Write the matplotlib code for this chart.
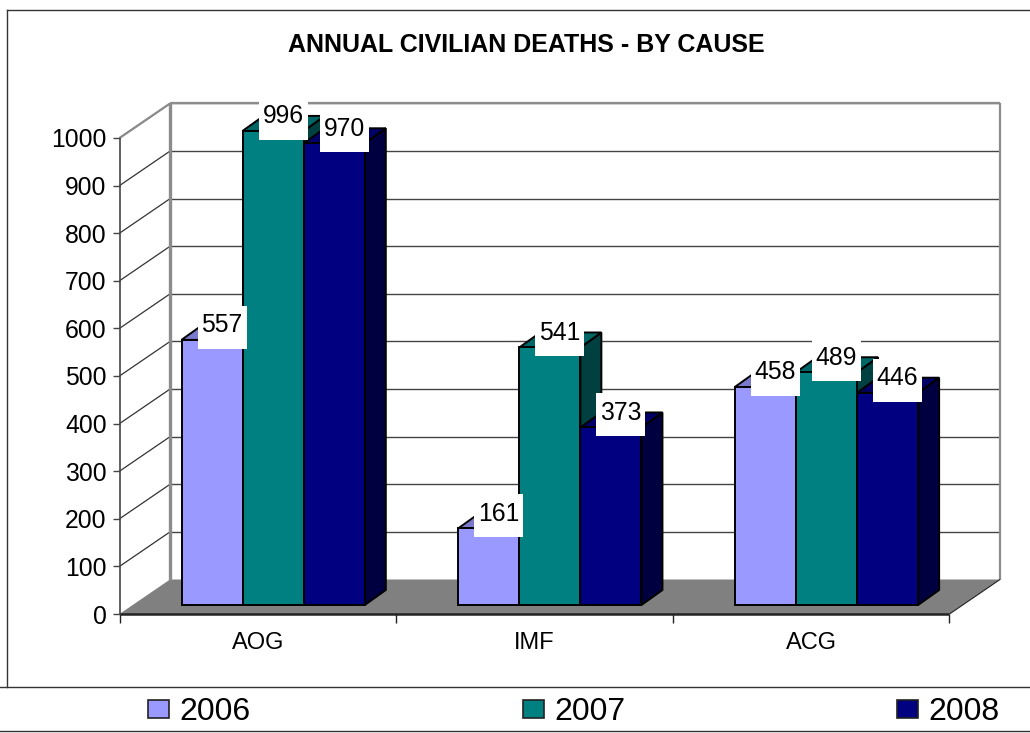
import matplotlib
matplotlib.use("Agg")
import matplotlib.pyplot as plt
from matplotlib.patches import Polygon, Rectangle
from matplotlib.lines import Line2D

plt.rcParams['font.family'] = ['Liberation Sans', 'DejaVu Sans']

title = "ANNUAL CIVILIAN DEATHS - BY CAUSE"
categories = ["AOG", "IMF", "ACG"]
years = ["2006", "2007", "2008"]
v2006 = [557, 161, 458]
v2007 = [996, 541, 489]
v2008 = [970, 373, 446]
yticks = [0, 100, 200, 300, 400, 500, 600, 700, 800, 900, 1000]

face = ["#9999FF", "#008080", "#000080"]
top = ["#7A7ACC", "#006666", "#000066"]
side = ["#4D4D80", "#004040", "#000040"]

W, H = 1030, 733
fig = plt.figure(figsize=(W / 100, H / 100), dpi=100, facecolor="white")
L, R, Y0, Y1 = 119.5, 949.5, 614, 138
ax = fig.add_axes([L / W, 1 - Y0 / H, (R - L) / W, (Y0 - Y1) / H])
ax.set_xlim(0, 3)
ax.set_ylim(0, 1000)
ax.axis("off")

PX = 3 / (R - L)            # data x per pixel
PY = 1000 / (Y0 - Y1)       # data y per pixel
DX, DY = 50.5 * PX, 34.5 * PY  # full chart depth


def poly(pts, **kw):
    ax.add_patch(Polygon(pts, closed=True, clip_on=False, **kw))


def seg(xs, ys, color="black", lw=1.0, z=1):
    ax.add_line(Line2D(xs, ys, color=color, lw=lw, zorder=z, clip_on=False,
                       solid_capstyle="butt"))


# floor
poly([(0, 0), (3, 0), (3 + DX, DY), (DX, DY)], fc="#808080", ec="none", zorder=1)

# gridlines on both walls
for t in yticks[1:]:
    seg([DX, 3 + DX], [t + DY, t + DY], color="#444444", lw=1.0)
    seg([0, DX], [t, t + DY], color="#333333", lw=0.9)
# wall frame
GREY = "#8C8C8C"
seg([0, DX], [1000, 1000 + DY], color=GREY, lw=1.6, z=1.5)
seg([DX, DX], [DY, 1000 + DY], color=GREY, lw=2.4, z=1.5)
seg([DX, 3 + DX], [1000 + DY, 1000 + DY], color=GREY, lw=1.6, z=1.5)
seg([3 + DX, 3 + DX], [DY, 1000 + DY], color=GREY, lw=1.6, z=1.5)
seg([3, 3 + DX], [0, DY], color="#222222", lw=0.8, z=1.5)

# axes
seg([0, 0], [0, 1000], color="#444444", lw=1.2, z=2)
seg([0, 3], [0, 0], color="#222222", lw=1.8, z=2)
for t in yticks:
    seg([-7 * PX, 0], [t, t], color="#444444", lw=1.0, z=2)
    ax.text(-13 * PX, t, str(t), ha="right", va="center_baseline", fontsize=17.8,
            color="black")
for i in range(4):
    seg([i, i], [0, -9 * PY], color="#222222", lw=1.0, z=2)
for i, c in enumerate(categories):
    ax.text(i + 0.5, -29 * PY, c, ha="center", va="center", fontsize=17,
            color="black")

# bars
BAR = 61.1 * PX
base_x = 62 * PX
d0y = 9 * PY
bdx, bdy = 21 * PX, 15 * PY
series = [v2006, v2007, v2008]
labels = []
for c in range(len(categories)):
    for s, vals in enumerate(series):
        v = vals[c]
        x0 = c + base_x + s * BAR
        x1 = x0 + BAR
        y0 = d0y
        y1 = d0y + v
        kw = dict(ec="black", lw=1.4, joinstyle="miter", zorder=3 + c + s * 0.1)
        poly([(x1, y0), (x1 + bdx, y0 + bdy), (x1 + bdx, y1 + bdy), (x1, y1)], fc=side[s], **kw)
        poly([(x0, y1), (x1, y1), (x1 + bdx, y1 + bdy), (x0 + bdx, y1 + bdy)], fc=top[s], **kw)
        poly([(x0, y0), (x1, y0), (x1, y1), (x0, y1)], fc=face[s], **kw)
        labels.append(((x0 + x1) / 2 + 10 * PX, y1 + bdy, v))

# value labels with white boxes
for x, y, v in labels:
    ax.add_patch(Rectangle((x - 24.5 * PX, y - 24 * PY), 49 * PX, 43 * PY, fc="white",
                           ec="none", zorder=10, clip_on=False))
    ax.text(x, y + 2 * PY, str(v), ha="center", va="center_baseline", fontsize=17.8,
            color="black", zorder=11)

# title
fig.text(526 / W, 1 - 45 / H, title, ha="center", va="center", fontsize=18,
         fontweight="bold", color="black")


# outer frame and legend strip
def fline(xs, ys, color="#333333", lw=1.0):
    fig.add_artist(Line2D([x / W for x in xs], [1 - y / H for y in ys], color=color, lw=lw,
                          transform=fig.transFigure))


fline([7, 1030], [10, 10])
fline([7, 7], [10, 687])
fline([0, 1030], [687, 687])
fline([0, 1030], [731, 731])

lx = [148, 523, 897]
for x, yr, col in zip(lx, years, face):
    fig.add_artist(Rectangle((x / W, 1 - 718 / H), 21 / W, 18 / H, fc=col, ec="#222222", lw=1.2,
                             transform=fig.transFigure))
    fig.text((x + 31.5) / W, 1 - 709 / H, yr, ha="left", va="center_baseline", fontsize=23,
             color="black")

fig.savefig("out.png", dpi=100)
